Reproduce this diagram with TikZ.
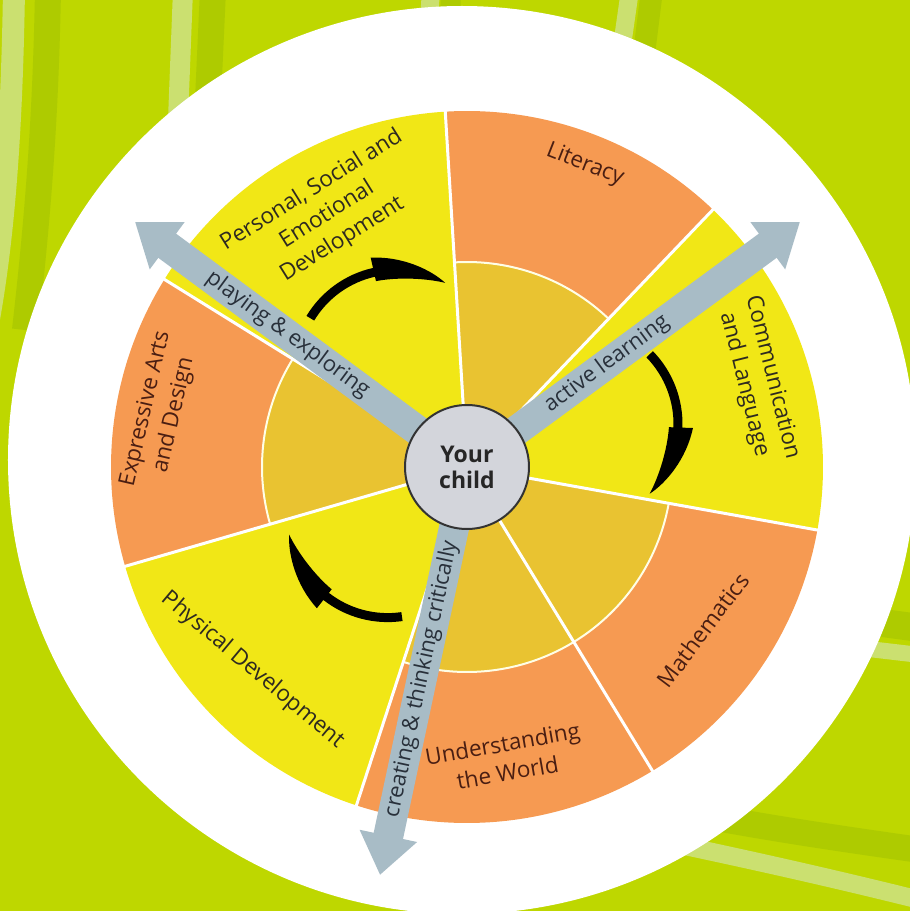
\documentclass[tikz,border=0pt]{standalone}
\usepackage{fontspec}
\setmainfont{Open Sans}
\usetikzlibrary{arrows.meta}

\definecolor{bggreen}{HTML}{BED700}
\definecolor{stripelight}{HTML}{CBE070}
\definecolor{stripedark}{HTML}{AECB00}
\definecolor{segorange}{HTML}{F69A52}
\definecolor{segyellow}{HTML}{F1E716}
\definecolor{seggold}{HTML}{E9C331}
\definecolor{arrowgrey}{HTML}{A8BCC6}
\definecolor{hubgrey}{HTML}{D3D5DB}
\definecolor{inkbrown}{HTML}{4A1E12}
\definecolor{inkdark}{HTML}{2E2A20}
\definecolor{inkslate}{HTML}{28303A}

\newcommand{\swoosh}[2]{%
  \fill[swooshStyle, shift={#1}, rotate=#2, shift={(70,-72)}]
    (134.2:104.5) arc[start angle=134.2, end angle=88, radius=104.5]
    -- (88:115) .. controls (72:114) and (56:106) .. (45.8:100)
    .. controls (57:96.5) and (74:93) .. (88:91)
    -- (88:95.5) arc[start angle=88, end angle=134.2, radius=95.5] -- cycle;}

\begin{document}
\begin{tikzpicture}[x = 1pt, y = 1pt]
	\tikzstyle{swooshStyle} = [fill = black]
	\tikzstyle{stripeLight} = [draw = stripelight]
	\tikzstyle{stripeDark} = [draw = stripedark]
	\tikzstyle{boundaryStyle} = [draw = white, line width = 3pt]
	\tikzstyle{ringStyle} = [draw = white!90!yellow, line width = 2pt]
	\tikzstyle{shaftStyle} = [draw = arrowgrey, line width = 30pt, -{Triangle[length = 40pt, width = 56pt]}]
	\tikzstyle{shaftText} = [sloped, font = \fontsize{22}{26}\selectfont, text = inkslate]
	\tikzstyle{orangeLabel} = [align = center, font = \fontsize{22.5}{29}\selectfont, text = inkbrown]
	\tikzstyle{yellowLabel} = [align = center, font = \fontsize{22.5}{29}\selectfont, text = inkdark]
	\tikzstyle{hubStyle} = [shape = circle, minimum size = 124pt, inner sep = 0pt, draw = black!80, line width = 2pt, fill = hubgrey, align = center, font = \fontsize{23}{26}\selectfont\bfseries, text = black!85]
	\useasboundingbox (-467,-444) rectangle (443,467);
	\fill[bggreen] (-467,-444) rectangle (443,467);
	\begin{scope}[shift = {(-467,467)}, yscale = -1]
		\draw[stripeDark, line width = 26pt] (48,-10) .. controls (46,100) and (40,200) .. (25,330);
		\draw[stripeLight, line width = 22pt] (14,-10) .. controls (12,120) and (5,240) .. (-15,340);
		\draw[stripeDark, line width = 26pt] (213,-10) -- (208,100);
		\draw[stripeLight, line width = 20pt] (183,-10) -- (178,120);
		\draw[stripeDark, line width = 20pt] (451,-10) -- (450,20);
		\draw[stripeLight, line width = 18pt] (431,-10) -- (429,20);
		\draw[stripeDark, line width = 22pt] (652,-10) -- (642,70);
		\draw[stripeLight, line width = 18pt] (630,-10) -- (620,60);
		\draw[stripeDark, line width = 28pt] (860,620) -- (920,628);
		\draw[stripeLight, line width = 16pt] (860,648) -- (920,655);
		\draw[stripeDark, line width = 26pt] (700,815) .. controls (780,830) and (850,840) .. (920,850);
		\draw[stripeLight, line width = 18pt] (680,845) .. controls (760,862) and (840,880) .. (920,900);
	\end{scope}
	\fill[white] (-5,7) circle (454);
	\coordinate (o) at (0,0);
	\fill[segyellow] (o) -- (-10.2:356) arc[start angle = -10.2, end angle = 46.3, radius = 356] -- cycle;
	\fill[segorange] (o) -- (46.3:356) arc[start angle = 46.3, end angle = 93.5, radius = 356] -- cycle;
	\fill[segyellow] (o) -- (93.5:356) arc[start angle = 93.5, end angle = 148.2, radius = 356] -- cycle;
	\fill[segorange] (o) -- (148.2:356) arc[start angle = 148.2, end angle = 196.2, radius = 356] -- cycle;
	\fill[segyellow] (o) -- (196.2:356) arc[start angle = 196.2, end angle = 251.9, radius = 356] -- cycle;
	\fill[segorange] (o) -- (251.9:356) arc[start angle = 251.9, end angle = 349.8, radius = 356] -- cycle;
	\fill[seggold] (o) -- (46.3:205) arc[start angle = 46.3, end angle = 93.5, radius = 205] -- cycle;
	\fill[seggold] (o) -- (148.2:205) arc[start angle = 148.2, end angle = 196.2, radius = 205] -- cycle;
	\fill[seggold] (o) -- (251.9:205) arc[start angle = 251.9, end angle = 349.8, radius = 205] -- cycle;
	\draw[ringStyle] (46.3:205) arc[start angle = 46.3, end angle = 93.5, radius = 205];
	\draw[ringStyle] (148.2:205) arc[start angle = 148.2, end angle = 196.2, radius = 205];
	\draw[ringStyle] (251.9:205) arc[start angle = 251.9, end angle = 349.8, radius = 205];
	\draw[boundaryStyle] (-10.2:60) -- (-10.2:357);
	\draw[boundaryStyle] (46.3:60) -- (46.3:357);
	\draw[boundaryStyle] (93.5:60) -- (93.5:357);
	\draw[boundaryStyle] (148.2:60) -- (148.2:357);
	\draw[boundaryStyle] (196.2:60) -- (196.2:357);
	\draw[boundaryStyle] (251.9:60) -- (251.9:357);
	\draw[boundaryStyle] (301.4:60) -- (301.4:357);
	\swoosh{(-157,149)}{14.7}
	\swoosh{(183,113)}{-90}
	\swoosh{(-65,-150)}{144}
	\coordinate (tipPlay) at (-332,245);
	\coordinate (tipActive) at (333,245);
	\coordinate (tipCreate) at (-87,-408);
	\draw[shaftStyle] (o) -- node[shaftText, pos = 0.54] {playing \& exploring} (tipPlay);
	\draw[shaftStyle] (o) -- node[shaftText, pos = 0.42] {active learning} (tipActive);
	\draw[shaftStyle] (o) -- node[shaftText, pos = 0.52] {creating \& thinking critically} (tipCreate);
	\node[orangeLabel, rotate = -21.5] (literacy) at (118,302) {Literacy};
	\node[yellowLabel, rotate = 32] (personal) at (-140,252) {Personal, Social and\\Emotional\\Development};
	\node[yellowLabel, rotate = -76] (communication) at (291,86) {Communication\\and Language};
	\node[orangeLabel, rotate = 53] (maths) at (236,-163) {Mathematics};
	\node[orangeLabel, rotate = 10] (world) at (38,-291) {Understanding\\the World};
	\node[yellowLabel, rotate = -40] (physical) at (-214,-203) {Physical Development};
	\node[orangeLabel, rotate = 77] (expressive) at (-307,55) {Expressive Arts\\and Design};
	\node[hubStyle] (child) at (o) {Your\\child};
\end{tikzpicture}
\end{document}
